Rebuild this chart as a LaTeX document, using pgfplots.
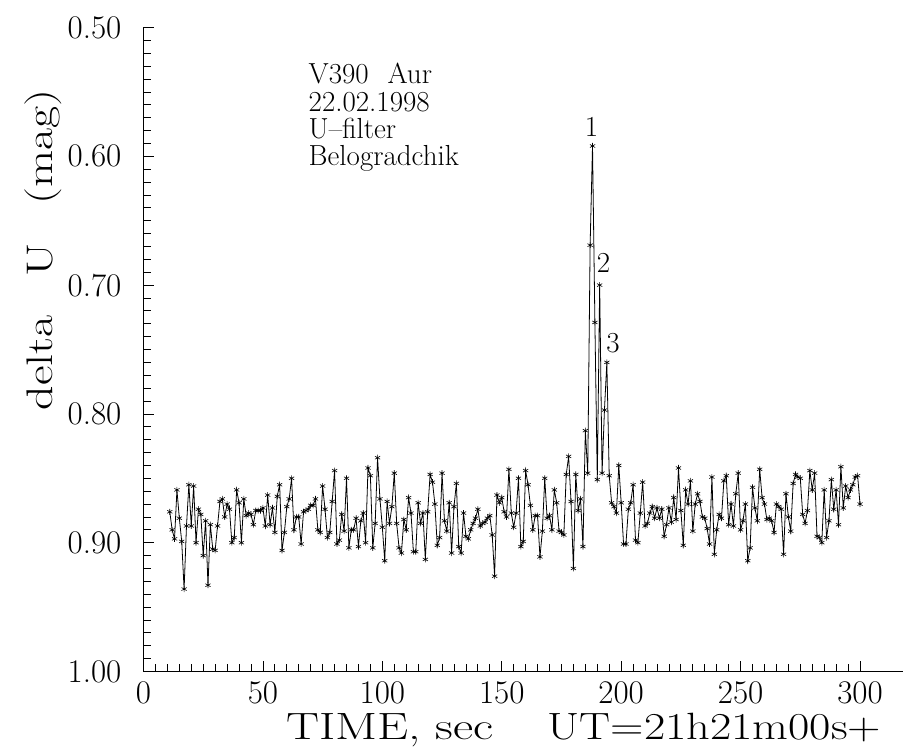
\documentclass[border=0pt]{standalone}
\usepackage{fontspec}
\usepackage{pgfplots}
\usepackage{pgfplotstable}
\pgfplotsset{compat=1.18}

% time (s) and delta U (mag)
\pgfplotstableread{
t v
11 0.876
12 0.890
13 0.897
14 0.859
15 0.881
16 0.899
17 0.936
18 0.887
19 0.855
20 0.887
21 0.856
22 0.900
23 0.874
24 0.878
25 0.910
26 0.883
27 0.933
28 0.886
29 0.905
30 0.906
31 0.887
32 0.868
33 0.866
34 0.880
35 0.870
36 0.874
37 0.900
38 0.896
39 0.859
40 0.869
41 0.900
42 0.866
43 0.879
44 0.877
45 0.878
46 0.886
47 0.875
48 0.875
49 0.875
50 0.873
51 0.887
52 0.863
53 0.886
54 0.873
55 0.892
56 0.864
57 0.855
58 0.906
59 0.892
60 0.872
61 0.866
62 0.850
63 0.890
64 0.880
65 0.880
66 0.901
67 0.876
68 0.875
69 0.874
70 0.871
71 0.871
72 0.866
73 0.890
74 0.892
75 0.856
76 0.874
77 0.896
78 0.892
79 0.868
80 0.844
81 0.901
82 0.898
83 0.878
84 0.891
85 0.850
86 0.904
87 0.890
88 0.890
89 0.881
90 0.903
91 0.883
92 0.877
93 0.900
94 0.842
95 0.848
96 0.904
97 0.885
98 0.834
99 0.866
100 0.888
101 0.914
102 0.868
103 0.885
104 0.872
105 0.846
106 0.885
107 0.904
108 0.908
109 0.882
110 0.890
111 0.865
112 0.877
113 0.907
114 0.907
115 0.869
116 0.885
117 0.877
118 0.913
119 0.876
120 0.847
121 0.853
122 0.870
123 0.902
124 0.896
125 0.846
126 0.883
127 0.891
128 0.869
129 0.908
130 0.872
131 0.854
132 0.903
133 0.908
134 0.877
135 0.895
136 0.897
137 0.890
138 0.885
139 0.881
140 0.874
141 0.887
142 0.885
143 0.884
144 0.881
145 0.879
146 0.894
147 0.926
148 0.863
149 0.869
150 0.865
151 0.876
152 0.880
153 0.843
154 0.877
155 0.888
156 0.877
157 0.850
158 0.903
159 0.899
160 0.844
161 0.855
162 0.871
163 0.890
164 0.879
165 0.879
166 0.911
167 0.891
168 0.850
169 0.881
170 0.879
171 0.890
172 0.859
173 0.869
174 0.891
175 0.892
176 0.894
177 0.847
178 0.833
179 0.868
180 0.920
181 0.847
182 0.875
183 0.866
184 0.903
185 0.813
186 0.846
187 0.669
188 0.592
189 0.729
190 0.851
191 0.700
192 0.846
193 0.797
194 0.760
195 0.848
196 0.869
197 0.872
198 0.877
199 0.840
200 0.869
201 0.901
202 0.901
203 0.874
204 0.869
205 0.855
206 0.898
207 0.900
208 0.877
209 0.853
210 0.887
211 0.885
212 0.877
213 0.872
214 0.881
215 0.873
216 0.881
217 0.874
218 0.895
219 0.886
220 0.873
221 0.884
222 0.865
223 0.882
224 0.842
225 0.875
226 0.902
227 0.859
228 0.870
229 0.852
230 0.891
231 0.870
232 0.862
233 0.868
234 0.880
235 0.881
236 0.889
237 0.901
238 0.849
239 0.909
240 0.890
241 0.878
242 0.881
243 0.852
244 0.848
245 0.886
246 0.870
247 0.887
248 0.862
249 0.846
250 0.890
251 0.883
252 0.870
253 0.914
254 0.904
255 0.857
256 0.873
257 0.883
258 0.843
259 0.865
260 0.870
261 0.882
262 0.881
263 0.883
264 0.892
265 0.870
266 0.872
267 0.874
268 0.909
269 0.862
270 0.880
271 0.891
272 0.854
273 0.847
274 0.849
275 0.850
276 0.878
277 0.885
278 0.875
279 0.844
280 0.859
281 0.846
282 0.895
283 0.896
284 0.900
285 0.859
286 0.896
287 0.883
288 0.851
289 0.874
290 0.859
291 0.886
292 0.841
293 0.873
294 0.856
295 0.865
296 0.859
297 0.855
298 0.849
299 0.848
300 0.870
}\lcdata

\begin{document}
\begin{tikzpicture}
\path[use as bounding box] (-143.5pt,-77.5pt) rectangle (759.5pt,671.5pt);
\begin{axis}[
    at={(0pt,0pt)}, anchor=south west,
    scale only axis,
    width=759.5pt, height=644pt,
    xmin=0, xmax=318,
    ymin=0.5, ymax=1.0,
    y dir=reverse,
    axis x line*=bottom,
    axis y line*=left,
    axis line style={line width=0.9pt},
    tick style={line width=0.8pt, black},
    tick align=inside,
    major tick length=11pt,
    minor tick length=7.5pt,
    xtick={0,50,100,150,200,250,300},
    minor x tick num=9,
    ytick={0.5,0.6,0.7,0.8,0.9,1.0},
    yticklabels={0.50,0.60,0.70,0.80,0.90,1.00},
    minor y tick num=9,
    /pgf/number format/assume math mode=true,
    tick label style={font=\fontsize{33}{33}\selectfont},
    xticklabel style={inner sep=0pt, yshift=-10pt},
    yticklabel style={inner sep=0pt, xshift=-22pt},
    clip=false,
]
\addplot[black, line width=0.8pt, mark=asterisk, mark size=3pt,
         mark options={line width=0.6pt}] table[x=t, y=v] {\lcdata};

\begin{scope}[every node/.style={font=\fontsize{29}{29}\selectfont, inner sep=0pt}]
\node[anchor=base west] at (axis cs:69.1,0.5433) {V390\hspace{0.65em}Aur};
\node[anchor=base west] at (axis cs:69.1,0.5654) {22.02.1998};
\node[anchor=base west] at (axis cs:69.1,0.5860) {U\textendash filter};
\node[anchor=base west] at (axis cs:69.1,0.6068) {Belogradchik};
\node[anchor=base] at (axis cs:187.6,0.585) {1};
\node[anchor=base] at (axis cs:192.6,0.6906) {2};
\node[anchor=base] at (axis cs:196.6,0.752) {3};
\end{scope}
\end{axis}
\node[anchor=base west, inner sep=0pt, font=\fontsize{38}{38}\selectfont]
  at (142.5pt,-68.5pt)
  {\scalebox{1.3}[1]{TIME,\ sec}\hspace{54pt}\scalebox{1.22}[1]{UT=21h21m00s+}};
\node[rotate=90, inner sep=0pt, font=\fontsize{37}{37}\selectfont]
  at (-100pt,421.5pt) {\scalebox{1.3}[1]{delta\hspace{0.8em}U\hspace{0.8em}(mag)}};
\end{tikzpicture}
\end{document}
